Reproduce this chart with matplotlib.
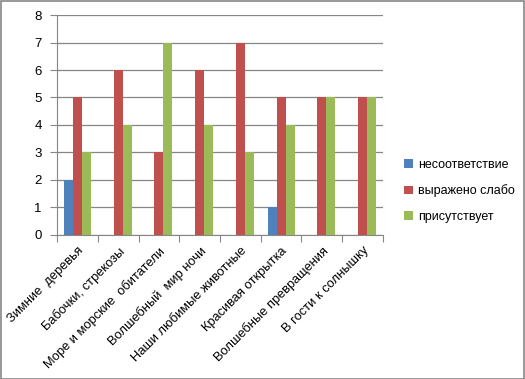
import matplotlib
matplotlib.use("Agg")
import matplotlib.pyplot as plt
import numpy as np
from matplotlib.patches import Rectangle

categories = ["Зимние  деревья", "Бабочки, стрекозы", "Море и морские  обитатели",
              "Волшебный  мир ночи", "Наши любимые животные", "Красивая открытка",
              "Волшебные превращения", "В гости к солнышку"]
series_names = ["несоответствие", "выражено слабо", "присутствует"]
nesootv = [2, 0, 0, 0, 0, 1, 0, 0]
slabo = [5, 6, 3, 6, 7, 5, 5, 5]
prisut = [3, 4, 7, 4, 3, 4, 5, 5]
colors = ["#4F81BD", "#C0504D", "#9BBB59"]
yticks = [0, 1, 2, 3, 4, 5, 6, 7, 8]

plt.rcParams['font.family'] = ['Liberation Sans', 'DejaVu Sans']
fig = plt.figure(figsize=(5.25, 3.79), dpi=100)
fig.patches.append(Rectangle((0.001, 0.001), 0.997, 0.996, transform=fig.transFigure,
                             fill=False, edgecolor="#868686", linewidth=1.2))
ax = fig.add_axes([0.1086, 0.380, 0.6209, 0.5804])

x = np.arange(len(categories))
w = 0.22
for i, (vals, name) in enumerate(zip([nesootv, slabo, prisut], series_names)):
    ax.bar(x + (i - 1) * w, vals, w, color=colors[i], label=name, zorder=3)

ax.set_xlim(-0.5, len(categories) - 0.5)
ax.set_ylim(0, 8)
ax.set_yticks(yticks)
ax.yaxis.grid(True, color="#868686", linewidth=0.9, zorder=0)
for s in ["top", "right"]:
    ax.spines[s].set_visible(False)
for s in ["left", "bottom"]:
    ax.spines[s].set_color("#868686")
ax.set_xticks(np.arange(-0.5, len(categories), 1.0), minor=False)
ax.set_xticklabels([])
ax.set_xticks(x, minor=True)
ax.set_xticklabels(categories, minor=True, rotation=45, ha="right", rotation_mode="anchor",
                   fontsize=9.3)
ax.tick_params(axis="x", which="minor", length=0, pad=7)
ax.tick_params(axis="x", which="major", length=5, color="#868686")
ax.tick_params(axis="y", length=5, color="#868686", labelsize=9.5, pad=6)

leg = ax.legend(loc="center left", bbox_to_anchor=(1.03, 0.2), frameon=False,
                fontsize=9, handlelength=0.7, handleheight=0.7, labelspacing=1.1,
                handletextpad=0.4)
fig.savefig("out.png", dpi=100)
